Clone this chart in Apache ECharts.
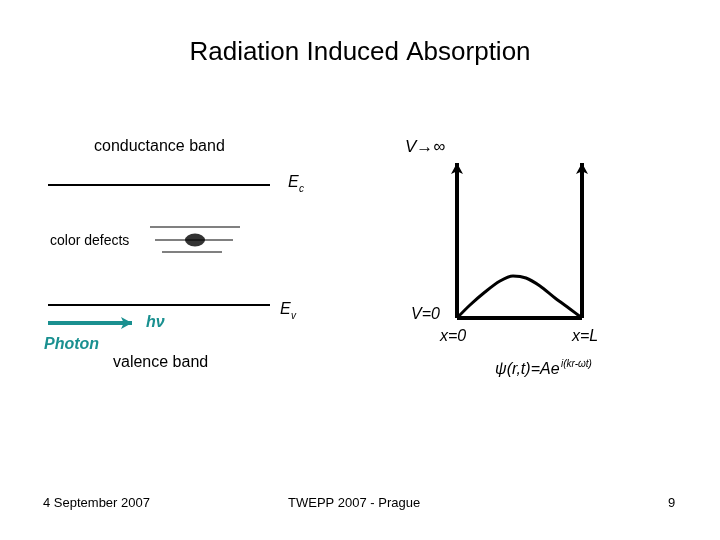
<!DOCTYPE html><html><head><meta charset="utf-8"><script src="https://cdn.jsdelivr.net/npm/echarts@6/dist/echarts.min.js"></script></head><body style="margin:0"><div id="c" style="width:720px;height:540px"></div><script>
const ecLine=[[48,185],[270,185]];
const evLine=[[48,305],[270,305]];
const defect1=[[150,227],[240,227]];
const defect2=[[155,240],[233,240]];
const defect3=[[162,252],[222,252]];
const defectDot=[[195,240]];
const photon=[[48,323],[132,323]];
const leftWall=[[457,318],[457,163]];
const rightWall=[[582,318],[582,163]];
const wellBottom=[[457,318],[582,318]];
const wave=[[457,318],[470,305],[485,292],[500,281],[513,276],[526,278],[540,286],[555,298],[570,309],[582,318]];
const chart=echarts.init(document.getElementById('c'));
const F='Liberation Sans, Arial, sans-serif';
function ln(d,c,w,rot){
  const data=d.map((p,i)=>{
    if(rot!==undefined&&i===d.length-1)return {value:p,symbol:'arrow',symbolSize:[9,11],symbolRotate:rot};
    return {value:p,symbol:'none'};
  });
  return {type:'line',data:data,showSymbol:true,symbol:'none',lineStyle:{color:c,width:w},itemStyle:{color:c},silent:true,animation:false,z:2};}
function t(x,y,s,sz,o){return {type:'text',x:x,y:y,style:Object.assign({text:s,font:(o&&o.f||'')+' '+sz+'px '+F,fill:'#000',textVerticalAlign:'middle'},o&&o.st||{})};}
const wv=ln(wave,'#000',3);wv.smooth=0.3;
chart.setOption({backgroundColor:'#fff',
grid:{left:0,right:0,top:0,bottom:0},
xAxis:{type:'value',min:0,max:720,show:false},
yAxis:{type:'value',min:0,max:540,inverse:true,show:false},
series:[ln(ecLine,'#000',2),ln(evLine,'#000',2),ln(defect1,'#808080',2),ln(defect2,'#808080',2),ln(defect3,'#808080',2),
{type:'scatter',data:defectDot,symbol:'circle',symbolSize:[20,13],itemStyle:{color:'#000'},animation:false,z:5},
ln(photon,'#1a9090',4,-90),ln(leftWall,'#000',4,0),ln(rightWall,'#000',4,0),ln(wellBottom,'#000',4),wv],
graphic:[
t(360,53,'Radiation Induced Absorption',26,{st:{textAlign:'center'}}),
t(94,147,'conductance band',16),
t(405,147,'V→∞',17,{f:'italic'}),
t(288,183,'E',16,{f:'italic'}),t(299,189,'c',10,{f:'italic'}),
t(50,241,'color defects',14),
t(280,310,'E',16,{f:'italic'}),t(291,316,'v',10,{f:'italic'}),
t(146,323,'hν',16,{f:'bold italic',st:{fill:'#1a9090'}}),
t(44,345,'Photon',16,{f:'bold italic',st:{fill:'#1a9090'}}),
t(113,363,'valence band',16),
t(411,315,'V=0',16,{f:'italic'}),
t(440,337,'x=0',16,{f:'italic'}),
t(572,337,'x=L',16,{f:'italic'}),
t(495,370,'ψ(r,t)=Ae',16,{f:'italic'}),t(561,364,'i(kr-ωt)',10,{f:'italic'}),
t(43,503,'4 September 2007',13),
t(288,503,'TWEPP 2007 - Prague',13),
t(668,503,'9',13)
]});
</script></body></html>
